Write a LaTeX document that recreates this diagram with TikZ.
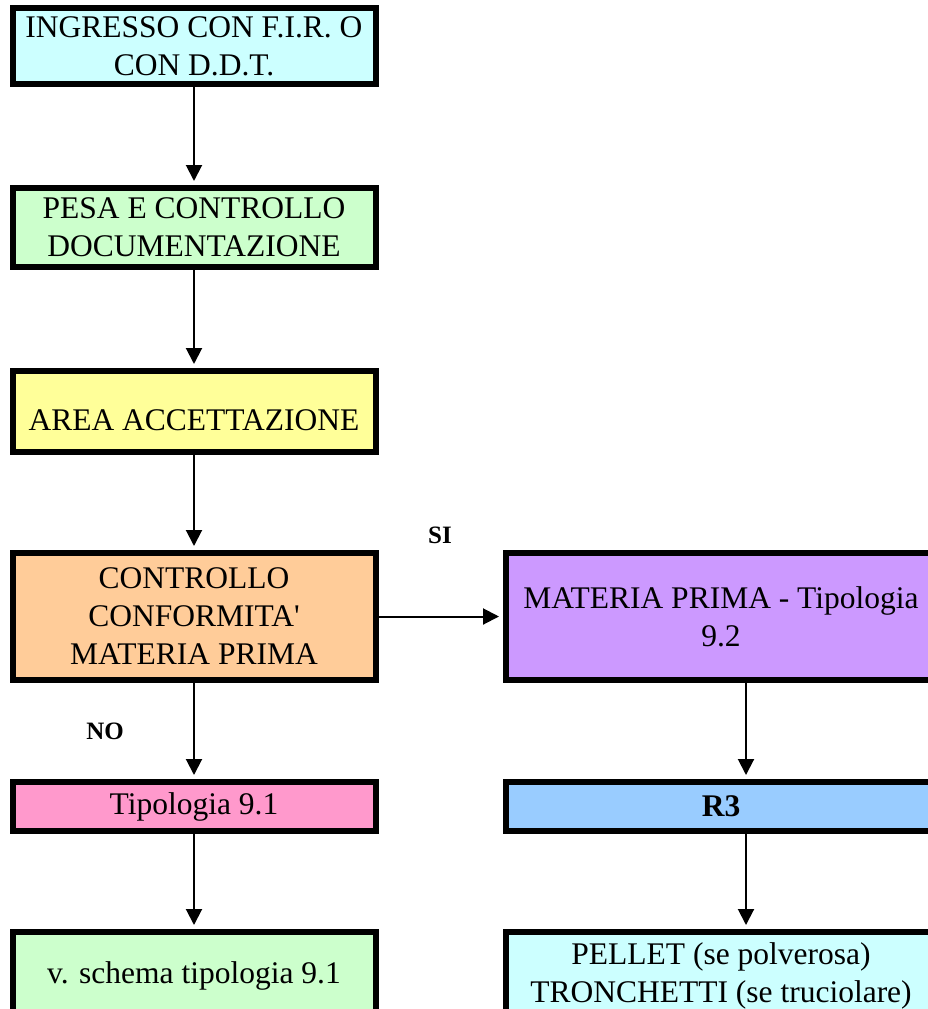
\documentclass[tikz,border=0pt]{standalone}
\usepackage{fontspec}
\setmainfont{Liberation Serif}
\usetikzlibrary{arrows.meta}
\definecolor{boxcyan}{HTML}{CCFFFF}
\definecolor{boxgreen}{HTML}{CCFFCC}
\definecolor{boxyellow}{HTML}{FFFF99}
\definecolor{boxorange}{HTML}{FFCC99}
\definecolor{boxpurple}{HTML}{CC99FF}
\definecolor{boxpink}{HTML}{FF99CC}
\definecolor{boxblue}{HTML}{99CCFF}
\begin{document}
\begin{tikzpicture}[x=1pt,y=-1pt,
  flowbox/.style={draw=black,line width=6pt,inner sep=0pt,align=center,
    font=\fontsize{31.5}{38}\selectfont},
  leftbox/.style={flowbox,minimum width=363pt},
  rightbox/.style={flowbox,minimum width=430pt},
  flow/.style={line width=2pt,shorten >=4pt,-{Triangle[width=16pt,length=16pt]}},
  answer/.style={font=\fontsize{25}{30}\selectfont\bfseries}]
\useasboundingbox (0,0) rectangle (927,1009);

% left column
\node[leftbox,fill=boxcyan,minimum height=76pt] (ingresso) at (194,46)
  {INGRESSO CON F.I.R. O\\CON D.D.T.};
\node[leftbox,fill=boxgreen,minimum height=79pt] (pesa) at (194,227.5)
  {PESA E CONTROLLO\\DOCUMENTAZIONE};
\node[leftbox,fill=boxyellow,minimum height=81pt] (area) at (194,411.5)
  {\mbox{}\\AREA ACCETTAZIONE};
\node[leftbox,fill=boxorange,minimum height=127pt] (controllo) at (194,616.5)
  {CONTROLLO\\CONFORMITA\textquotesingle\\MATERIA PRIMA};
\node[leftbox,fill=boxpink,minimum height=49pt] (tip91) at (194,806.5)
  {Tipologia 9.1};
\node[leftbox,fill=boxgreen,minimum height=88pt] (schema) at (194,976)
  {v. schema tipologia 9.1};

% right column
\node[rightbox,fill=boxpurple,minimum height=127pt] (materia) at (721,616.5)
  {MATERIA PRIMA - Tipologia\\9.2};
\node[rightbox,fill=boxblue,minimum height=49pt] (r3) at (721,806.5)
  {\textbf{R3}};
\node[rightbox,fill=boxcyan,minimum height=88pt] (pellet) at (721,976)
  {PELLET (se polverosa)\\TRONCHETTI (se truciolare)};

% connectors
\draw[flow] (ingresso) -- (pesa);
\draw[flow] (pesa) -- (area);
\draw[flow] (area) -- (controllo);
\draw[flow] (controllo) -- (tip91);
\draw[flow] (tip91) -- (schema);
\draw[flow] (controllo) -- (materia);
\draw[flow] ([xshift=25pt]materia.south) -- ([xshift=25pt]r3.north);
\draw[flow] ([xshift=25pt]r3.south) -- ([xshift=25pt]pellet.north);

% branch labels
\node[answer] (si) at (440,535) {SI};
\node[answer] (no) at (105,731) {NO};
\end{tikzpicture}
\end{document}
